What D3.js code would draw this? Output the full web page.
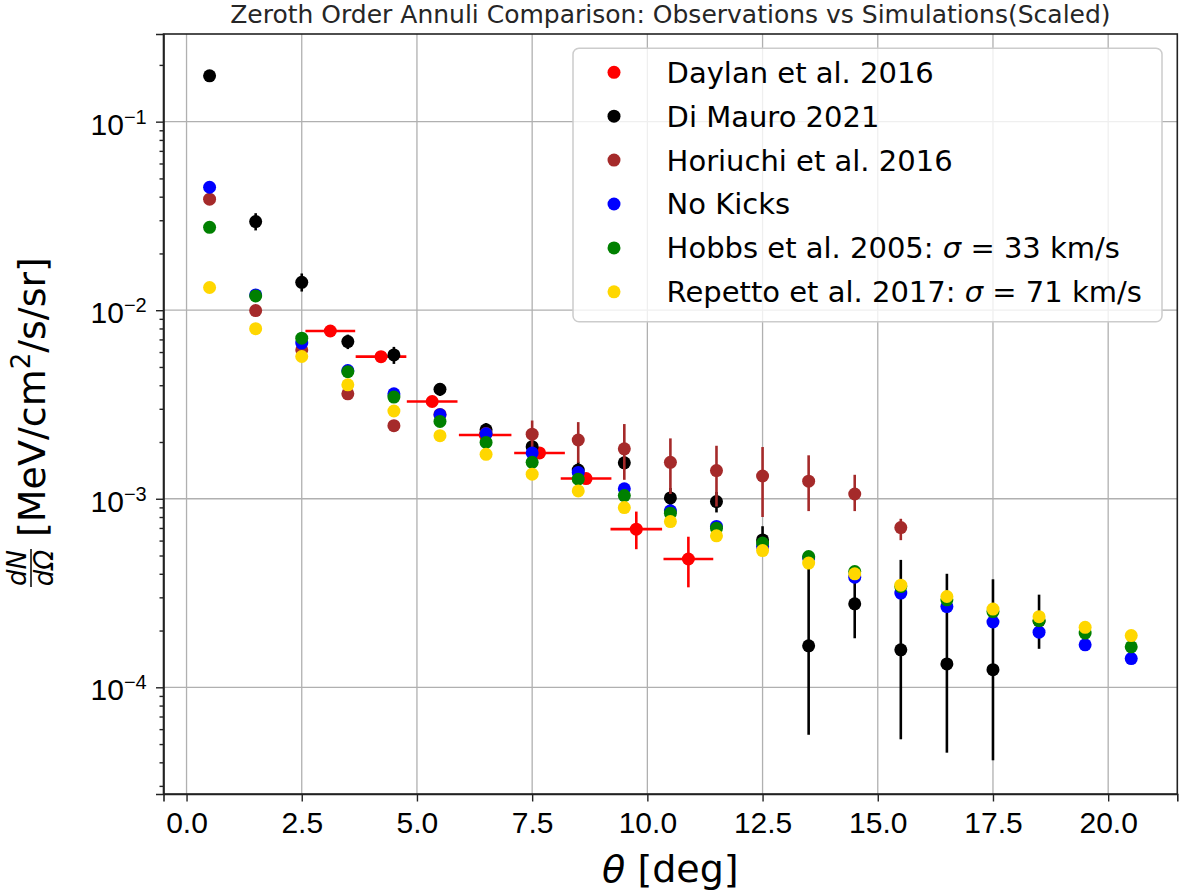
<!DOCTYPE html>
<meta charset="utf-8">
<body style="margin:0">
<script src="https://d3js.org/d3.v7.min.js"></script>
<div id="my_dataviz"></div>
</body>

<script>

// ---- data ----
// simulated annuli (bin centres)
var thetaSim = [0.5, 1.5, 2.5, 3.5, 4.5, 5.5, 6.5, 7.5, 8.5, 9.5, 10.5,
                11.5, 12.5, 13.5, 14.5, 15.5, 16.5, 17.5, 18.5, 19.5, 20.5]
var noKicks = [0.0449, 0.01205, 0.00669, 0.00479, 0.0036, 0.00279, 0.00221, 0.00175, 0.00138, 0.00113, 0.000863,
               0.000713, 0.000559, 0.000485, 0.000384, 0.000316, 0.000268, 0.000222, 0.000196, 0.000168, 0.000142]
var hobbs = [0.0275, 0.0119, 0.00711, 0.00472, 0.00346, 0.00257, 0.00199, 0.00156, 0.00127, 0.00104, 0.000839,
             0.000698, 0.000582, 0.000494, 0.000411, 0.000342, 0.000291, 0.000252, 0.000226, 0.000194, 0.000164]
var repetto = [0.0132, 0.00798, 0.00568, 0.00402, 0.00292, 0.00216, 0.00172, 0.00135, 0.00110, 0.000898, 0.000757,
               0.000636, 0.000531, 0.000456, 0.0004, 0.000348, 0.000303, 0.00026, 0.000237, 0.000208, 0.000188]

// Di Mauro 2021
var thetaDiMauro = [0.5, 1.5, 2.5, 3.5, 4.5, 5.5, 6.5, 7.5, 8.5, 9.5, 10.5, 11.5, 12.5, 13.5, 14.5, 15.5, 16.5, 17.5, 18.5]
var diMauro = [0.175, 0.0295, 0.01406, 0.00682, 0.00579, 0.00381, 0.00232, 0.00189, 0.00142, 0.00155, 0.00101,
               0.000966, 0.000605, 0.000166, 0.000277, 0.000158, 0.000133, 0.000124, 0.000225]
var diMauroLo = [0.010, 0.003, 0.0015, 0.0006, 0.0006, 0.0003, 0.0002, 0.0002, 0.00015, 0.00012, 0.00012,
                 0.00012, 0.0001, 0.00011, 0.000095, 0.000105, 0.000088, 0.000083, 0.000065]
var diMauroHi = [0.012, 0.0032, 0.0016, 0.0006, 0.0006, 0.0003, 0.0002, 0.0002, 0.00015, 0.00012, 0.00013,
                 0.00012, 0.00011, 0.00029, 0.00015, 0.000316, 0.000267, 0.00025, 0.000085]

// Horiuchi et al. 2016
var thetaHoriuchi = [0.5, 1.5, 2.5, 3.5, 4.5, 5.5, 6.5, 7.5, 8.5, 9.5, 10.5, 11.5, 12.5, 13.5, 14.5, 15.5]
var horiuchi = [0.0388, 0.00995, 0.00616, 0.0036, 0.00244, 0.0028, 0.00222, 0.0022, 0.00205, 0.00184, 0.00156,
                0.00141, 0.00132, 0.00124, 0.00106, 0.000703]
var horiuchiLo = [0, 0, 0, 0, 0, 0, 0, 0.0004, 0.0005, 0.00058, 0.0005, 0.0005, 0.00052, 0.00038, 0.0002, 0.0001]
var horiuchiHi = [0, 0, 0, 0, 0, 0, 0, 0.0004, 0.0005, 0.00065, 0.00053, 0.0005, 0.00056, 0.00046, 0.00028, 0.00008]

// Daylan et al. 2016
var thetaDaylan = [3.12, 4.22, 5.33, 6.48, 7.66, 8.67, 9.76, 10.89]
var daylan = [0.00776, 0.00567, 0.00328, 0.00218, 0.00175, 0.00128, 0.00069, 0.000479]
var daylanXerr = [0.54, 0.55, 0.55, 0.57, 0.55, 0.55, 0.56, 0.54]
var daylanLo = [0.0003, 0.0003, 0.0002, 0.0001, 0.0001, 0.00008, 0.00015, 0.00014]
var daylanHi = [0.0003, 0.0003, 0.0002, 0.0001, 0.0001, 0.00008, 0.000165, 0.00015]

var xTicks = [0, 2.5, 5, 7.5, 10, 12.5, 15, 17.5, 20]
var yTicks = [1e-4, 1e-3, 1e-2, 1e-1]

// ---- layout ----
var margin = {top: 34, right: 18.7, bottom: 100, left: 163.5},
    width = 1196 - margin.left - margin.right,
    height = 894 - margin.top - margin.bottom

var svg = d3.select("#my_dataviz")
  .append("svg")
    .attr("width", 1196)
    .attr("height", 894)
    .style("font-family", "'DejaVu Sans', sans-serif")

var g = svg.append("g")
    .attr("transform", "translate(" + margin.left + "," + margin.top + ")")

var x = d3.scaleLinear().domain([-0.5, 21.5]).range([0, width])
var y = d3.scaleLog().domain([2.717e-5, 0.2917]).range([height, 0])

// grid
g.append("g").selectAll("line")
  .data(xTicks).join("line")
    .attr("x1", d => x(d)).attr("x2", d => x(d))
    .attr("y1", 0).attr("y2", height)
    .style("stroke", "#b0b0b0").style("stroke-width", 1.3)
g.append("g").selectAll("line")
  .data(yTicks).join("line")
    .attr("x1", 0).attr("x2", width)
    .attr("y1", d => y(d)).attr("y2", d => y(d))
    .style("stroke", "#b0b0b0").style("stroke-width", 1.3)

// x axis
var xAxis = g.append("g")
  .attr("transform", "translate(0," + height + ")")
  .call(d3.axisBottom(x).tickValues(xTicks).tickFormat(d3.format(".1f")).tickSize(7.5).tickPadding(10))
xAxis.selectAll("text").style("font-size", "30px").style("fill", "#000")

// y axis: minor ticks
var minor = []
for (var e = -5; e <= -1; e++) {
  for (var m = 2; m <= 9; m++) {
    var v = m * Math.pow(10, e)
    if (v > y.domain()[0] && v < y.domain()[1]) minor.push(v)
  }
}
g.append("g")
  .call(d3.axisLeft(y).tickValues(minor).tickFormat("").tickSize(4))
  .select(".domain").remove()

var yAxis = g.append("g")
  .call(d3.axisLeft(y).tickValues(yTicks).tickSize(7.5).tickPadding(9.3))
yAxis.selectAll("text")
  .style("font-size", "30px").style("fill", "#000")
  .attr("dy", "0.42em")
  .each(function(d) {
    var t = d3.select(this)
    t.text(null)
    t.append("tspan").text("10")
    t.append("tspan").attr("dy", -11).style("font-size", "20px")
      .text("\u2212" + Math.round(-Math.log10(d)))
  })

g.selectAll(".tick line").style("stroke", "#222").style("stroke-width", 1.4)
g.selectAll(".domain").style("stroke", "#222").style("stroke-width", 1.6)

// right & top spines
g.append("rect")
  .attr("width", width).attr("height", height)
  .style("fill", "none").style("stroke", "#222").style("stroke-width", 1.6)

// error bars + points
function drawSeries(xs, ys, lo, hi, xerr, color) {
  var data = xs.map(function(d, i) {
    return {x: d, y: ys[i], lo: lo ? lo[i] : 0, hi: hi ? hi[i] : 0, xe: xerr ? xerr[i] : 0}
  })
  var s = g.append("g")
  s.selectAll(".ey")
    .data(data.filter(d => d.lo > 0 || d.hi > 0)).join("line")
      .attr("x1", d => x(d.x)).attr("x2", d => x(d.x))
      .attr("y1", d => y(d.y + d.hi)).attr("y2", d => y(d.y - d.lo))
      .style("stroke", color).style("stroke-width", 2.6)
  s.selectAll(".ex")
    .data(data.filter(d => d.xe > 0)).join("line")
      .attr("x1", d => x(d.x - d.xe)).attr("x2", d => x(d.x + d.xe))
      .attr("y1", d => y(d.y)).attr("y2", d => y(d.y))
      .style("stroke", color).style("stroke-width", 2.6)
  s.selectAll("circle")
    .data(data).join("circle")
      .attr("cx", d => x(d.x)).attr("cy", d => y(d.y))
      .attr("r", 6.5)
      .style("fill", color)
}

drawSeries(thetaDaylan, daylan, daylanLo, daylanHi, daylanXerr, "red")
drawSeries(thetaDiMauro, diMauro, diMauroLo, diMauroHi, null, "black")
drawSeries(thetaHoriuchi, horiuchi, horiuchiLo, horiuchiHi, null, "brown")
drawSeries(thetaSim, noKicks, null, null, null, "blue")
drawSeries(thetaSim, hobbs, null, null, null, "green")
drawSeries(thetaSim, repetto, null, null, null, "gold")

// legend
var legendItems = [
  {label: ["Daylan et al. 2016"], color: "red"},
  {label: ["Di Mauro 2021"], color: "black"},
  {label: ["Horiuchi et al. 2016"], color: "brown"},
  {label: ["No Kicks"], color: "blue"},
  {label: ["Hobbs et al. 2005: ", "\u03c3", " = 33 km/s"], color: "green"},
  {label: ["Repetto et al. 2017: ", "\u03c3", " = 71 km/s"], color: "gold"}
]
var legend = svg.append("g")
legend.append("rect")
  .attr("x", 573).attr("y", 48.3).attr("width", 589).attr("height", 273.4)
  .attr("rx", 6).attr("ry", 6)
  .style("fill", "white").style("fill-opacity", 0.8)
  .style("stroke", "#cccccc").style("stroke-width", 1.5)
var rows = legend.selectAll(".row")
  .data(legendItems).join("g")
    .attr("transform", (d, i) => "translate(0," + (72.3 + i * 43.9) + ")")
rows.append("circle").attr("cx", 614).attr("cy", 0).attr("r", 6.5).style("fill", d => d.color)
rows.append("text")
  .attr("x", 666.6).attr("dy", "0.36em")
  .style("font-size", "29px").style("fill", "#000")
  .each(function(d) {
    var t = d3.select(this)
    d.label.forEach(function(p, i) {
      t.append("tspan").text(p).style("font-style", i === 1 ? "italic" : "normal")
    })
  })

// title
svg.append("text")
  .attr("x", margin.left + width / 2).attr("y", 22.5)
  .attr("text-anchor", "middle")
  .style("font-size", "25px").style("fill", "#262626")
  .text("Zeroth Order Annuli Comparison: Observations vs Simulations(Scaled)")

// x label
var xl = svg.append("text")
  .attr("x", margin.left + width / 2).attr("y", 881.7)
  .attr("text-anchor", "middle")
  .style("font-size", "38px").style("fill", "#000")
xl.append("tspan").style("font-style", "italic").text("\u03b8")
xl.append("tspan").text(" [deg]")

// y label (rotated): fraction dN/dOmega then units
var yl = svg.append("g").attr("transform", "translate(45,414) rotate(-90)")
yl.append("text").attr("x", -154).attr("y", -19).attr("text-anchor", "middle")
  .style("font-size", "26px").style("font-style", "italic").text("dN")
yl.append("line").attr("x1", -173).attr("x2", -135).attr("y1", -14).attr("y2", -14)
  .style("stroke", "#000").style("stroke-width", 1.5)
yl.append("text").attr("x", -154).attr("y", 8).attr("text-anchor", "middle")
  .style("font-size", "26px").style("font-style", "italic").text("d\u03a9")
var units = yl.append("text").attr("x", -123).attr("y", 0)
  .style("font-size", "38px").style("fill", "#000")
units.append("tspan").text("[MeV/cm")
units.append("tspan").attr("dy", -15).style("font-size", "26px").text("2")
units.append("tspan").attr("dy", 15).text("/s/sr]")

</script>
